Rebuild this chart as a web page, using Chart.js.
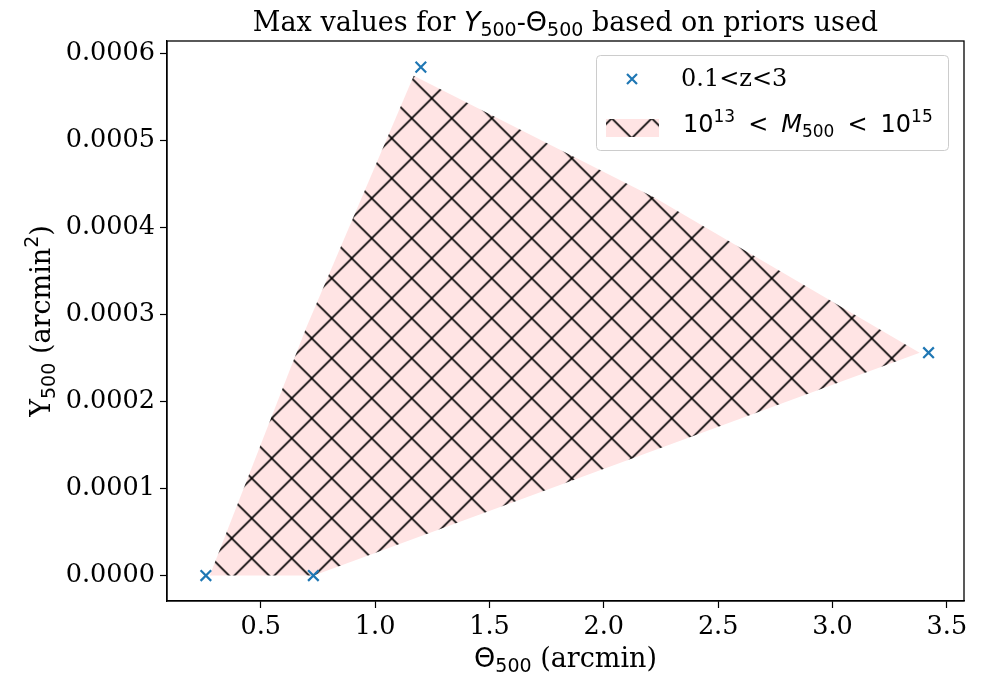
<!DOCTYPE html>
<html>
<head>
<meta charset="utf-8">
<script src="https://cdn.jsdelivr.net/npm/chart.js@4"></script>
<style>
  body { margin: 0; background: #fff; }
  #wrap { width: 989px; height: 675px; }
</style>
</head>
<body>
<div id="wrap"><canvas id="priorChart" width="989" height="675"></canvas></div>
<script>
// tick values
const xTicks = [0.5, 1.0, 1.5, 2.0, 2.5, 3.0, 3.5];
const yTicks = [0, 0.0001, 0.0002, 0.0003, 0.0004, 0.0005, 0.0006];

// corner values for 0.1<z<3
const zTheta = [0.26, 0.73, 1.2, 3.42];
const zY = [0, 0, 0.000584, 0.000256];

// outline of the 1e13 < M500 < 1e15 region
const massTheta = [0.277, 0.732, 3.381, 2.223, 1.169, 0.701, 0.277];
const massY = [0, 0, 0.000256, 0.000434, 0.000574, 0.000286, 0];

const SERIF = '"DejaVu Serif"';
const SANS = '"DejaVu Sans"';
const BLUE = '#1f77b4';

// pink fill with 'x' hatching
function makeHatch() {
    const size = 40;
    const c = document.createElement('canvas');
    c.width = size; c.height = size;
    const g = c.getContext('2d');
    g.fillStyle = '#ffe4e4';
    g.fillRect(0, 0, size, size);
    g.strokeStyle = '#000';
    g.lineWidth = 1.6;
    g.beginPath();
    for (let k = -1; k <= 1; k++) {
        g.moveTo(k * size - size, -size); g.lineTo(k * size + 2 * size, 2 * size);
        g.moveTo(k * size + 2 * size, -size); g.lineTo(k * size - size, 2 * size);
    }
    g.stroke();
    const ctx = document.getElementById('priorChart').getContext('2d');
    const pat = ctx.createPattern(c, 'repeat');
    pat.setTransform(new DOMMatrix().translate(31.7, 18.3));
    return pat;
}
const hatch = makeHatch();

// text run with pieces in different fonts; dy shifts sub/superscripts, gap adds space before a piece
function drawRich(ctx, parts, x, y, align) {
    let w = 0;
    parts.forEach(p => { ctx.font = p.f; p.w = ctx.measureText(p.t).width + (p.gap || 0); w += p.w; });
    let cx = align === 'center' ? x - w / 2 : x;
    ctx.textAlign = 'left';
    ctx.textBaseline = 'alphabetic';
    parts.forEach(p => {
        ctx.font = p.f;
        ctx.fillText(p.t, cx + (p.gap || 0), y + (p.dy || 0));
        cx += p.w;
    });
}

function cross(ctx, x, y, r) {
    ctx.save();
    ctx.strokeStyle = BLUE;
    ctx.lineWidth = 2.2;
    ctx.beginPath();
    ctx.moveTo(x - r, y - r); ctx.lineTo(x + r, y + r);
    ctx.moveTo(x + r, y - r); ctx.lineTo(x - r, y + r);
    ctx.stroke();
    ctx.restore();
}

const textPlugin = {
    id: 'textPlugin',
    afterDraw(chart) {
        const ctx = chart.ctx;
        const a = chart.chartArea;
        ctx.save();
        // frame
        ctx.strokeStyle = '#000';
        ctx.lineWidth = 1.3;
        ctx.strokeRect(a.left, a.top, a.right - a.left, a.bottom - a.top);

        ctx.fillStyle = '#000';
        const big = '27px ' + SERIF;
        const sub = '19px ' + SANS;
        const cx = (a.left + a.right) / 2;

        // title
        drawRich(ctx, [
            { t: 'Max values for ', f: big },
            { t: 'Y', f: 'italic 27px ' + SANS },
            { t: '500', f: sub, dy: 5 },
            { t: '-', f: big },
            { t: 'Θ', f: '27px ' + SANS },
            { t: '500', f: sub, dy: 5 },
            { t: ' based on priors used', f: big }
        ], cx, 31, 'center');

        // x axis title
        drawRich(ctx, [
            { t: 'Θ', f: '27px ' + SANS },
            { t: '500', f: sub, dy: 5 },
            { t: ' (arcmin)', f: big }
        ], cx, 667, 'center');

        // y axis title
        ctx.save();
        ctx.translate(50, (a.top + a.bottom) / 2);
        ctx.rotate(-Math.PI / 2);
        drawRich(ctx, [
            { t: 'Y', f: big },
            { t: '500', f: sub, dy: 5 },
            { t: ' (arcmin', f: big },
            { t: '2', f: sub, dy: -12 },
            { t: ')', f: big }
        ], 0, 0, 'center');
        ctx.restore();

        // legend
        const lx = 596, ly = 55, lw = 352, lh = 95;
        ctx.fillStyle = 'rgba(255,255,255,0.8)';
        ctx.strokeStyle = '#cccccc';
        ctx.lineWidth = 1;
        ctx.beginPath();
        ctx.roundRect(lx + 0.5, ly + 0.5, lw, lh, 4);
        ctx.fill();
        ctx.stroke();

        cross(ctx, 632, 79, 5);
        ctx.fillStyle = '#000';
        drawRich(ctx, [{ t: '0.1<z<3', f: '24px ' + SERIF }], 681, 86, 'left');

        ctx.fillStyle = hatch;
        ctx.fillRect(606, 119, 53, 18);
        ctx.fillStyle = '#000';
        const lf = '24px ' + SANS, ls = '17px ' + SANS;
        drawRich(ctx, [
            { t: '10', f: lf },
            { t: '13', f: ls, dy: -10 },
            { t: '<', f: lf, gap: 13 },
            { t: 'M', f: 'italic 24px ' + SANS, gap: 13 },
            { t: '500', f: ls, dy: 5 },
            { t: '<', f: lf, gap: 13 },
            { t: '10', f: lf, gap: 13 },
            { t: '15', f: ls, dy: -10 }
        ], 683, 132, 'left');
        ctx.restore();
    }
};

new Chart(document.getElementById('priorChart'), {
    type: 'scatter',
    data: {
        datasets: [{
            type: 'line',
            label: '10^13 < M500 < 10^15',
            data: massTheta.map((t, i) => ({ x: t, y: massY[i] })),
            fill: 'shape',
            backgroundColor: hatch,
            borderColor: 'rgba(0,0,0,0)',
            borderWidth: 0,
            pointRadius: 0,
            tension: 0,
            order: 2
        }, {
            label: '0.1<z<3',
            data: zTheta.map((t, i) => ({ x: t, y: zY[i] })),
            pointStyle: 'crossRot',
            pointRadius: 7.5,
            pointBorderWidth: 2.2,
            borderColor: BLUE,
            backgroundColor: BLUE,
            order: 1
        }]
    },
    plugins: [textPlugin],
    options: {
        responsive: false,
        animation: false,
        layout: { padding: { left: 0, top: 41, right: 25, bottom: 0 } },
        plugins: {
            legend: { display: false },
            title: { display: false },
            tooltip: { enabled: false }
        },
        scales: {
            x: {
                type: 'linear',
                min: 0.09,
                max: 3.575,
                afterBuildTicks: s => { s.ticks = xTicks.map(v => ({ value: v })); },
                afterFit: s => { s.height = 74; },
                ticks: {
                    color: '#000',
                    font: { family: SERIF, size: 25.5 },
                    padding: 4,
                    callback: v => v.toFixed(1)
                },
                grid: { drawOnChartArea: false, color: '#000', tickLength: 7, tickWidth: 1.2 },
                border: { color: '#000', width: 1.3 }
            },
            y: {
                min: -0.0000292,
                max: 0.000614,
                afterBuildTicks: s => { s.ticks = yTicks.map(v => ({ value: v })); },
                afterFit: s => { s.width = 167; },
                ticks: {
                    color: '#000',
                    font: { family: SERIF, size: 25.5 },
                    padding: 5,
                    callback: v => v.toFixed(4)
                },
                grid: { drawOnChartArea: false, color: '#000', tickLength: 7, tickWidth: 1.2 },
                border: { color: '#000', width: 1.3 }
            }
        }
    }
});
</script>
</body>
</html>
